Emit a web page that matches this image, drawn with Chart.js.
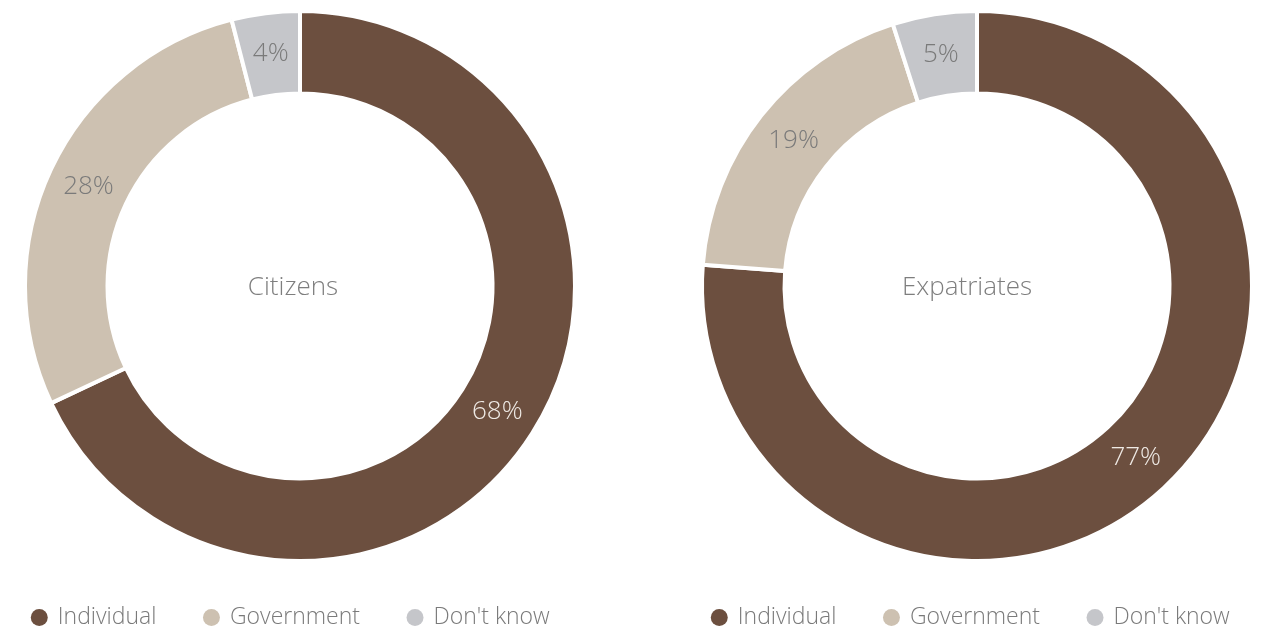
<!DOCTYPE html>
<html>
<head>
<meta charset="utf-8">
<title>Citizens vs Expatriates</title>
<script src="https://cdn.jsdelivr.net/npm/chart.js@4/dist/chart.umd.min.js"></script>
<style>
  html, body { margin: 0; padding: 0; background: #ffffff; overflow: hidden; }
  #wrap { position: relative; width: 1264px; height: 629px; overflow: hidden; }
  .chart-box { position: absolute; top: 0; width: 660px; height: 639px; }
  #box-left { left: -30px; }
  #box-right { left: 647px; }
</style>
</head>
<body>
<div id="wrap">
  <div class="chart-box" id="box-left"><canvas id="citizensChart"></canvas></div>
  <div class="chart-box" id="box-right"><canvas id="expatsChart"></canvas></div>
</div>
<script>
// Answer categories shared by both rings
const categories = ['Individual', 'Government', "Don't know"];
// Share of respondents, in percent
const citizensValues = [68, 28, 4];
const expatriatesValues = [77, 19, 5];
// Group shown in the middle of each ring
const groupNames = ['Citizens', 'Expatriates'];

const sliceColors = ['#6C4F3F', '#CDC1B1', '#C5C6CA'];
const labelColors = ['#EFEAE5', '#7A7A7A', '#7A7A7A'];
const FONT = '"Open Sans", Lato, sans-serif';

// Percent labels in the middle of each slice, plus the group name in the hole
const ringText = {
  id: 'ringText',
  afterLayout(chart, args, opts) {
    // slight horizontal nudge of the legend row
    const lg = chart.legend;
    if (lg && opts.legendDx) {
      lg.left += opts.legendDx;
      lg.right += opts.legendDx;
    }
  },
  afterDatasetsDraw(chart, args, opts) {
    const { ctx } = chart;
    const meta = chart.getDatasetMeta(0);
    const values = chart.data.datasets[0].data;
    ctx.save();
    ctx.textAlign = 'center';
    ctx.textBaseline = 'middle';
    ctx.font = '300 26px ' + FONT;
    meta.data.forEach((arc, i) => {
      const p = arc.getCenterPoint();
      ctx.fillStyle = labelColors[i];
      ctx.fillText(values[i] + '%', p.x, p.y);
    });
    const first = meta.data[0];
    ctx.font = '300 26px ' + FONT;
    ctx.fillStyle = '#7E7E7E';
    ctx.fillText(opts.title, first.x + opts.dx, first.y + 2);
    ctx.restore();
  }
};

// Legend entries without the white slice outline around the dot
function legendItems(chart) {
  const base = Chart.overrides.doughnut.plugins.legend.labels.generateLabels(chart);
  return base.map(item => Object.assign(item, { lineWidth: 0 }));
}

function makeRing(canvasId, values, title, dx, legendDx) {
  return new Chart(document.getElementById(canvasId), {
    type: 'doughnut',
    data: {
      labels: categories,
      datasets: [{
        data: values,
        backgroundColor: sliceColors,
        borderColor: '#ffffff',
        borderWidth: 4,
        hoverOffset: 0
      }]
    },
    options: {
      responsive: true,
      maintainAspectRatio: false,
      animation: false,
      radius: 275,
      cutout: '70%',
      layout: { padding: { top: 14, bottom: 0 } },
      plugins: {
        tooltip: { enabled: false },
        ringText: { title: title, dx: dx, legendDx: legendDx },
        legend: {
          position: 'bottom',
          labels: {
            usePointStyle: true,
            pointStyle: 'circle',
            boxWidth: 14,
            boxHeight: 12,
            padding: 48,
            color: '#7A7A7A',
            font: { family: FONT, size: 23, weight: '300' },
            generateLabels: legendItems
          }
        }
      }
    },
    plugins: [ringText]
  });
}

makeRing('citizensChart', citizensValues, groupNames[0], -7, -9);
makeRing('expatsChart', expatriatesValues, groupNames[1], -10, -6);
</script>
</body>
</html>
